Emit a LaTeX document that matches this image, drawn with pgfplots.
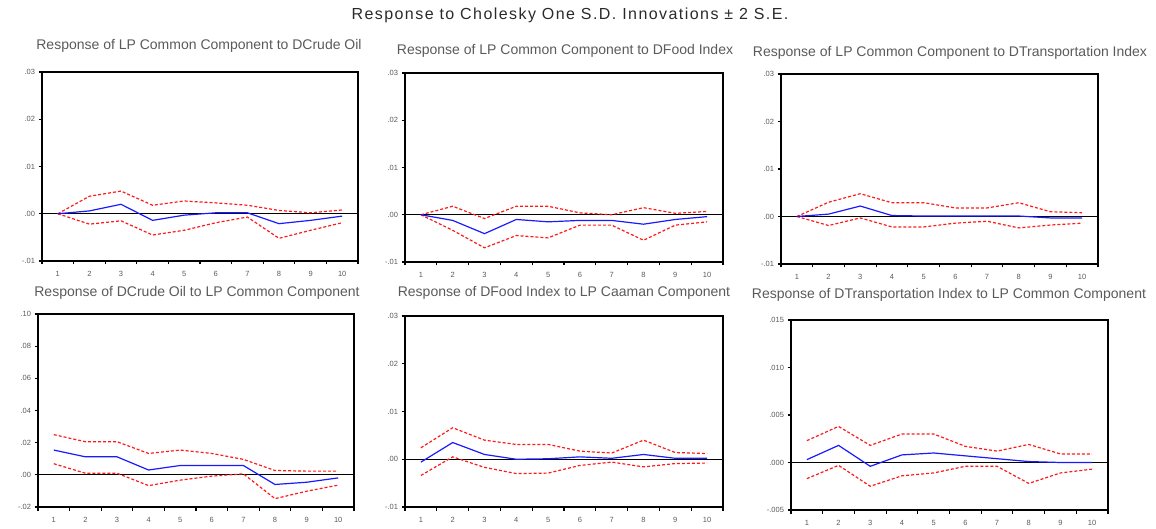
\documentclass[border=0pt]{standalone}
\usepackage{fontspec}
\setmainfont{Liberation Sans}
\usepackage{pgfplots}
\pgfplotsset{compat=1.18}
\definecolor{txt}{HTML}{5A5A5A}
\definecolor{ttl}{HTML}{2A2A2A}
\definecolor{ired}{HTML}{FF1A1A}
\definecolor{iblue}{HTML}{1A1AFF}
\pgfplotsset{
  irf/.style={
    scale only axis, anchor=north west,
    xmin=0.5, xmax=10.5,
    axis line style={line width=1.4pt},
    tick style={line width=1.1pt, black},
    tick align=outside, major tick length=3.5pt,
    xtick={0.5,1.5,...,10.5}, xticklabels={},
    extra x ticks={1,2,...,10}, extra x tick labels={1,2,3,4,5,6,7,8,9,10},
    extra x tick style={major tick length=0pt, xticklabel style={yshift=-7pt}},
    xtick pos=bottom, ytick pos=left,
    scaled y ticks=false,
    ticklabel style={font=\fontsize{7.5}{8}\selectfont, text=txt},
    /pgf/number format/assume math mode=true,
    clip=false,
  },
  blu/.style={iblue, line width=1.2pt, mark=none},
  rd/.style={ired, line width=1.2pt, mark=none, dash pattern=on 3pt off 2pt},
}
\newcommand{\zeroline}{\addplot[black, line width=1.2pt, forget plot] coordinates {(0.5,0) (10.5,0)};}
\begin{document}
\begin{tikzpicture}
\path[use as bounding box] (0,0) rectangle (1156pt,-529pt);
\node[ttl, font=\fontsize{16}{18}\addfontfeatures{LetterSpace=9}\selectfont] at (570pt,-15pt) {Response to Cholesky One S.D. Innovations ± 2 S.E.};
\tikzset{ptitle/.style={txt, font=\fontsize{14}{16}\selectfont}}
\node[ptitle] at (199pt,-46pt) {Response of LP Common Component to DCrude Oil};
\node[ptitle] at (565pt,-51pt) {Response of LP Common Component to DFood Index};
\node[ptitle] at (950pt,-53pt) {Response of LP Common Component to DTransportation Index};
\node[ptitle] at (197pt,-293pt) {Response of DCrude Oil to LP Common Component};
\node[ptitle] at (564pt,-293pt) {Response of DFood Index to LP Caaman Component};
\node[ptitle] at (949pt,-295pt) {Response of DTransportation Index to LP Common Component};

% Panel 1
\begin{axis}[irf, at={(42pt,-72pt)}, width=316pt, height=189pt,
  ymin=-0.01, ymax=0.03, ytick={-0.01,0,0.01,0.02,0.03}, yticklabels={-.01,.00,.01,.02,.03}]
\zeroline
\addplot[rd] coordinates {(1,0) (2,0.0037) (3,0.0048) (4,0.0018) (5,0.0027) (6,0.0023) (7,0.0018) (8,0.0007) (9,0.0002) (10,0.0008)};
\addplot[rd] coordinates {(1,0) (2,-0.0022) (3,-0.0015) (4,-0.0045) (5,-0.0035) (6,-0.0019) (7,-0.0007) (8,-0.0052) (9,-0.0035) (10,-0.0019)};
\addplot[blu] coordinates {(1,0) (2,0.0006) (3,0.0020) (4,-0.0014) (5,-0.0003) (6,0.0002) (7,0.0002) (8,-0.0021) (9,-0.0014) (10,-0.0005)};
\end{axis}

% Panel 2
\begin{axis}[irf, at={(405pt,-73pt)}, width=318pt, height=189pt,
  ymin=-0.01, ymax=0.03, ytick={-0.01,0,0.01,0.02,0.03}, yticklabels={-.01,.00,.01,.02,.03}]
\zeroline
\addplot[rd] coordinates {(1,0) (2,0.0018) (3,-0.0008) (4,0.0018) (5,0.0018) (6,0.0004) (7,0) (8,0.0015) (9,0.0003) (10,0.0007)};
\addplot[rd] coordinates {(1,0) (2,-0.0033) (3,-0.0070) (4,-0.0044) (5,-0.0049) (6,-0.0022) (7,-0.0022) (8,-0.0054) (9,-0.0022) (10,-0.0015)};
\addplot[blu] coordinates {(1,0) (2,-0.0012) (3,-0.0040) (4,-0.0010) (5,-0.0015) (6,-0.0012) (7,-0.0012) (8,-0.0020) (9,-0.0010) (10,-0.0004)};
\end{axis}

% Panel 3
\begin{axis}[irf, at={(781pt,-74pt)}, width=317pt, height=190pt,
  ymin=-0.01, ymax=0.03, ytick={-0.01,0,0.01,0.02,0.03}, yticklabels={-.01,.00,.01,.02,.03}]
\zeroline
\addplot[rd] coordinates {(1,0) (2,0.0030) (3,0.0048) (4,0.0029) (5,0.0029) (6,0.0018) (7,0.0018) (8,0.0029) (9,0.0010) (10,0.0008)};
\addplot[rd] coordinates {(1,0) (2,-0.0019) (3,-0.0003) (4,-0.0022) (5,-0.0022) (6,-0.0014) (7,-0.0010) (8,-0.0024) (9,-0.0018) (10,-0.0014)};
\addplot[blu] coordinates {(1,0) (2,0.0005) (3,0.0022) (4,0.0002) (5,0.0001) (6,0.0001) (7,0.0001) (8,0.0001) (9,-0.0003) (10,-0.0003)};
\end{axis}

% Panel 4
\begin{axis}[irf, at={(38pt,-314pt)}, width=316pt, height=193pt,
  ymin=-0.02, ymax=0.10, ytick={-0.02,0,0.02,0.04,0.06,0.08,0.10}, yticklabels={-.02,.00,.02,.04,.06,.08,.10}]
\zeroline
\addplot[rd] coordinates {(1,0.0250) (2,0.0206) (3,0.0206) (4,0.0133) (5,0.0154) (6,0.0133) (7,0.0096) (8,0.0027) (9,0.0023) (10,0.0023)};
\addplot[rd] coordinates {(1,0.0069) (2,0.0010) (3,0.0010) (4,-0.0067) (5,-0.0033) (6,-0.0008) (7,0.0006) (8,-0.0148) (9,-0.0102) (10,-0.0064)};
\addplot[blu] coordinates {(1,0.0154) (2,0.0112) (3,0.0112) (4,0.0030) (5,0.0058) (6,0.0058) (7,0.0058) (8,-0.0060) (9,-0.0046) (10,-0.0019)};
\end{axis}

% Panel 5
\begin{axis}[irf, at={(405pt,-316pt)}, width=318pt, height=191pt,
  ymin=-0.01, ymax=0.03, ytick={-0.01,0,0.01,0.02,0.03}, yticklabels={-.01,.00,.01,.02,.03}]
\zeroline
\addplot[rd] coordinates {(1,0.0024) (2,0.0066) (3,0.0040) (4,0.0031) (5,0.0031) (6,0.0017) (7,0.0013) (8,0.0040) (9,0.0014) (10,0.0012)};
\addplot[rd] coordinates {(1,-0.0034) (2,0.0005) (3,-0.0017) (4,-0.0030) (5,-0.0029) (6,-0.0013) (7,-0.0006) (8,-0.0016) (9,-0.0009) (10,-0.0008)};
\addplot[blu] coordinates {(1,-0.0006) (2,0.0035) (3,0.0010) (4,0) (5,0.0001) (6,0.0005) (7,0.0002) (8,0.0010) (9,0.0002) (10,0.0002)};
\end{axis}

% Panel 6
\begin{axis}[irf, at={(791pt,-320pt)}, width=317pt, height=190pt,
  ymin=-0.005, ymax=0.015, ytick={-0.005,0,0.005,0.010,0.015}, yticklabels={-.005,.000,.005,.010,.015}]
\zeroline
\addplot[rd] coordinates {(1,0.0023) (2,0.0038) (3,0.0018) (4,0.0030) (5,0.0030) (6,0.0017) (7,0.0012) (8,0.0019) (9,0.0009) (10,0.0009)};
\addplot[rd] coordinates {(1,-0.0017) (2,-0.0003) (3,-0.0025) (4,-0.0014) (5,-0.0011) (6,-0.0004) (7,-0.0004) (8,-0.0022) (9,-0.0011) (10,-0.0007)};
\addplot[blu] coordinates {(1,0.0003) (2,0.0018) (3,-0.0004) (4,0.0008) (5,0.0010) (6,0.0007) (7,0.0004) (8,0.0001) (9,0) (10,0)};
\end{axis}
\end{tikzpicture}
\end{document}
